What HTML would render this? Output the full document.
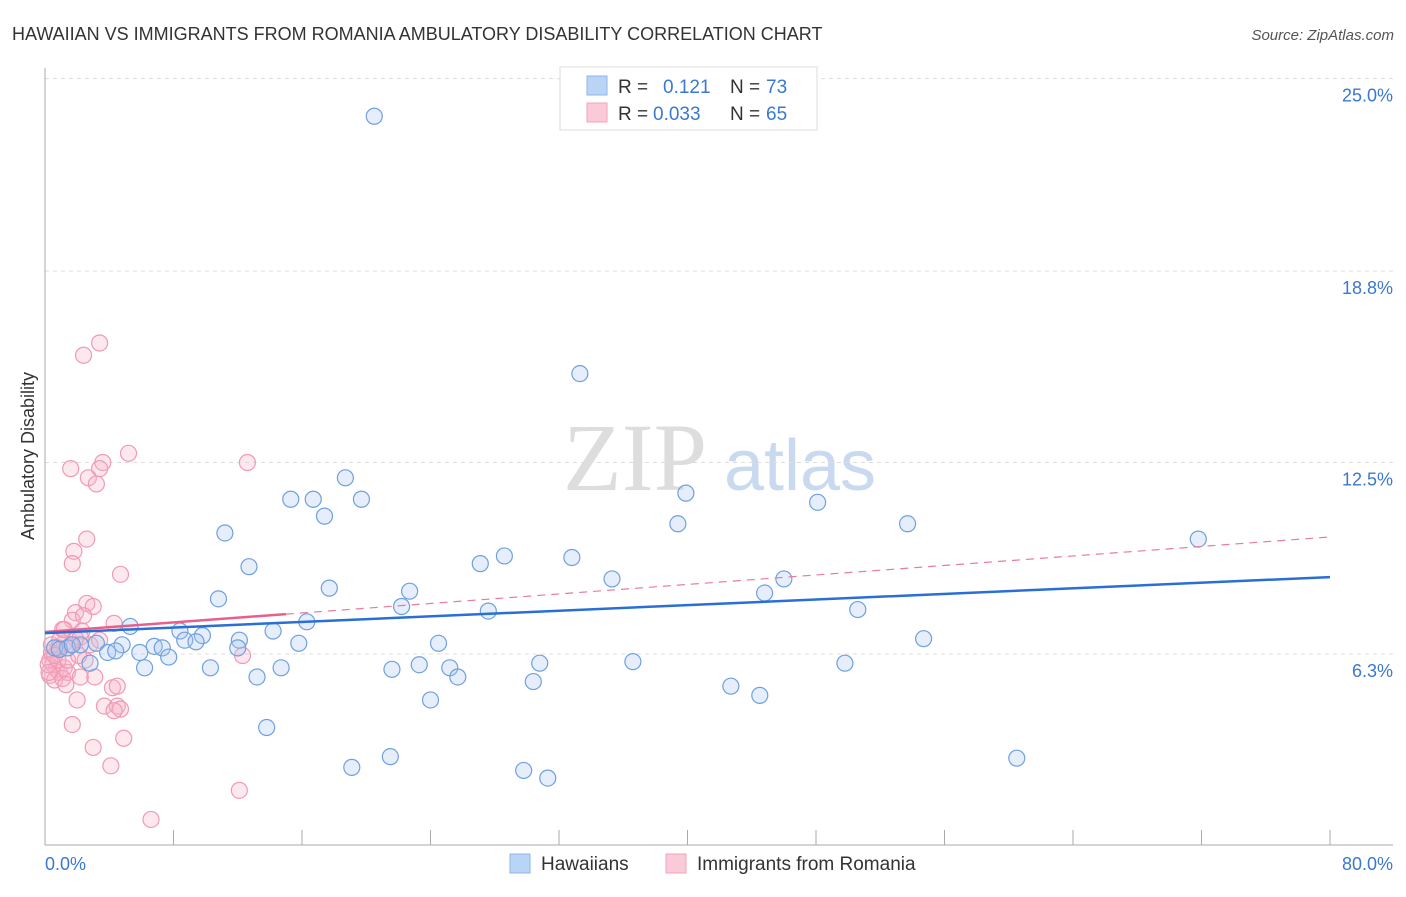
<!DOCTYPE html>
<html><head><meta charset="utf-8"><style>
body{margin:0;background:#fff;font-family:"Liberation Sans",sans-serif;}
svg text{font-family:"Liberation Sans",sans-serif;}
</style></head><body>
<svg id="chart" width="1406" height="892" viewBox="0 0 1406 892" xmlns="http://www.w3.org/2000/svg">
<text x="12" y="40" font-size="18" fill="#333">HAWAIIAN VS IMMIGRANTS FROM ROMANIA AMBULATORY DISABILITY CORRELATION CHART</text>
<text x="1394" y="40" font-size="15" fill="#555" text-anchor="end" font-style="italic">Source: ZipAtlas.com</text>
<g>
<text x="635" y="490" font-size="96" fill="#ddd" text-anchor="middle" font-family="Liberation Serif" style="font-family:'Liberation Serif',serif">ZIP</text>
<text x="800" y="490" font-size="72" fill="#c9daf0" text-anchor="middle">atlas</text>
</g>
<g id="grid"></g>
<g id="axes"></g>
<g id="marks"></g>
<g>
<rect x="560" y="67" width="257" height="63" fill="#fff" stroke="#ddd"/>
<rect x="587" y="76" width="20" height="19" fill="#b9d4f5" stroke="#8fb6e8"/>
<rect x="587" y="103" width="20" height="19" fill="#fbcad8" stroke="#f2a3bb"/>
<text x="618" y="93" font-size="19" fill="#333">R = </text><text x="663" y="93" font-size="19" fill="#3b78d0">0.121</text>
<text x="730" y="93" font-size="19" fill="#333">N = </text><text x="766" y="93" font-size="19" fill="#3b78d0">73</text>
<text x="618" y="120" font-size="19" fill="#333">R = </text><text x="653" y="120" font-size="19" fill="#3b78d0">0.033</text>
<text x="730" y="120" font-size="19" fill="#333">N = </text><text x="766" y="120" font-size="19" fill="#3b78d0">65</text>
</g>
<g>
<rect x="510" y="854" width="20" height="19" fill="#b9d4f5" stroke="#8fb6e8"/>
<text x="541" y="870" font-size="19" fill="#333">Hawaiians</text>
<rect x="666" y="854" width="20" height="19" fill="#fbcad8" stroke="#f2a3bb"/>
<text x="697" y="870" font-size="19" fill="#333">Immigrants from Romania</text>
</g>
<text transform="translate(34,456) rotate(-90)" font-size="18" fill="#333" text-anchor="middle">Ambulatory Disability</text>
</svg>
<script>
const yTicks=[6.3,12.5,18.8,25.0];
const yTickLabels=["6.3%","12.5%","18.8%","25.0%"];
const xTickVals=[0,8,16,24,32,40,48,56,64,72,80];
const xEndLabels=["0.0%","80.0%"];
const blueX=[20.5,33.3,18.7,15.3,16.7,19.7,17.4,11.2,39.9,48.1,39.4,53.7,71.8,12.7,27.1,28.6,32.8,35.3,46.0,17.7,22.7,10.8,44.8,22.2,27.6,50.6,5.3,16.3,14.2,8.4,9.8,12.1,8.7,9.4,3.2,4.8,6.8,7.3,12.0,15.8,24.5,54.7,0.6,1.4,2.2,3.9,4.4,5.9,7.7,2.8,6.2,10.3,14.7,21.6,23.3,25.2,30.8,36.6,49.8,13.2,25.7,30.4,42.7,44.5,24.0,13.8,21.5,19.1,29.8,31.3,60.5,0.9,1.7];
const blueY=[23.8,15.4,12.0,11.3,11.3,11.3,10.75,10.2,11.5,11.2,10.5,10.5,10.0,9.1,9.2,9.45,9.4,8.7,8.7,8.4,8.3,8.05,8.24,7.8,7.65,7.7,7.15,7.3,7.0,7.0,6.85,6.7,6.7,6.65,6.6,6.55,6.5,6.45,6.45,6.6,6.6,6.75,6.45,6.45,6.55,6.3,6.35,6.3,6.15,5.95,5.8,5.8,5.8,5.75,5.9,5.8,5.95,6.0,5.95,5.5,5.5,5.35,5.2,4.9,4.75,3.85,2.9,2.55,2.45,2.2,2.85,6.4,6.55];
const pinkX=[3.4,2.4,5.2,12.6,1.6,3.6,3.4,2.7,3.2,2.6,1.8,1.7,4.7,2.6,3.0,1.9,4.3,1.7,2.4,1.1,2.3,1.9,1.2,0.8,0.4,0.3,0.5,0.7,0.9,1.2,0.3,0.6,1.1,1.4,2.2,1.3,3.1,4.2,4.5,12.3,2.0,3.7,4.5,4.7,4.3,4.9,1.7,3.0,4.1,12.1,6.6,0.2,0.25,0.8,1.6,2.2,2.8,2.5,0.9,0.4,1.4,2.1,1.2,3.4,0.6];
const pinkY=[16.4,16.0,12.8,12.5,12.3,12.5,12.3,12.0,11.8,10.0,9.6,9.2,8.85,7.9,7.8,7.6,7.25,7.35,7.5,7.05,7.0,6.75,6.6,6.45,6.3,6.05,5.9,5.75,5.65,5.8,5.55,5.4,5.45,5.65,5.5,5.25,5.5,5.15,5.2,6.2,4.75,4.55,4.55,4.45,4.4,3.5,3.95,3.2,2.6,1.8,0.85,5.9,5.65,6.05,6.55,6.8,6.55,6.05,6.7,6.55,6.05,6.2,7.05,6.7,6.2];
const blueTrend=[6.93,8.76];
const pinkTrend=[6.97,10.07];
const pinkSolidEnd=15;
const X=v=>45+v*(1330-45)/80;
const Y=v=>845.5-v*30.64;
const NS="http://www.w3.org/2000/svg";
function mk(tag,attrs,parent){const e=document.createElementNS(NS,tag);for(const k in attrs)e.setAttribute(k,attrs[k]);parent.appendChild(e);return e;}
const grid=document.getElementById('grid'),axes=document.getElementById('axes'),marks=document.getElementById('marks');
yTicks.forEach((t,i)=>{const yy=Y(t===25?25.03:t===6.3?6.25:t===18.8?18.75:t);
const l=mk('line',{x1:45,x2:1393,y1:yy,y2:yy,stroke:'#ddd','stroke-dasharray':'4,4'},grid);


const tx=mk('text',{x:1393,y:yy+23,'font-size':18,fill:'#3b78d0','text-anchor':'end'},axes);tx.textContent=yTickLabels[i];

});
const ax=mk('line',{x1:45,x2:45,y1:68,y2:845,stroke:'#aaa'},axes);


const bx=mk('line',{x1:45,x2:1393,y1:845,y2:845,stroke:'#aaa'},axes);


xTickVals.forEach(v=>{const t=mk('line',{x1:X(v),x2:X(v),y1:830,y2:845,stroke:'#aaa'},axes);

});
const xl0=mk('text',{x:45,y:870,'font-size':18,fill:'#3b78d0'},axes);xl0.textContent=xEndLabels[0];


const xl1=mk('text',{x:1393,y:870,'font-size':18,fill:'#3b78d0','text-anchor':'end'},axes);xl1.textContent=xEndLabels[1];


pinkX.forEach((v,i)=>{const c=mk('circle',{cx:X(v),cy:Y(pinkY[i]),r:8,fill:'rgba(248,180,200,0.3)',stroke:'#f09ab5','stroke-width':1.2},marks);

});
blueX.forEach((v,i)=>{const c=mk('circle',{cx:X(v),cy:Y(blueY[i]),r:8,fill:'rgba(170,200,240,0.3)',stroke:'#6fa0e0','stroke-width':1.2},marks);

});
const pf=v=>pinkTrend[0]+(pinkTrend[1]-pinkTrend[0])*v/80;
const pd=mk('line',{x1:X(pinkSolidEnd),y1:Y(pf(pinkSolidEnd)),x2:X(80),y2:Y(pf(80)),stroke:'#e87c9c','stroke-width':1.2,'stroke-dasharray':'8,6'},marks);


const ps=mk('line',{x1:X(0),y1:Y(pf(0)),x2:X(pinkSolidEnd),y2:Y(pf(pinkSolidEnd)),stroke:'#e8608a','stroke-width':2.5},marks);


const bt=mk('line',{x1:X(0),y1:Y(blueTrend[0]),x2:X(80),y2:Y(blueTrend[1]),stroke:'#2a6fd6','stroke-width':2.5},marks);


</script>
</body></html>
